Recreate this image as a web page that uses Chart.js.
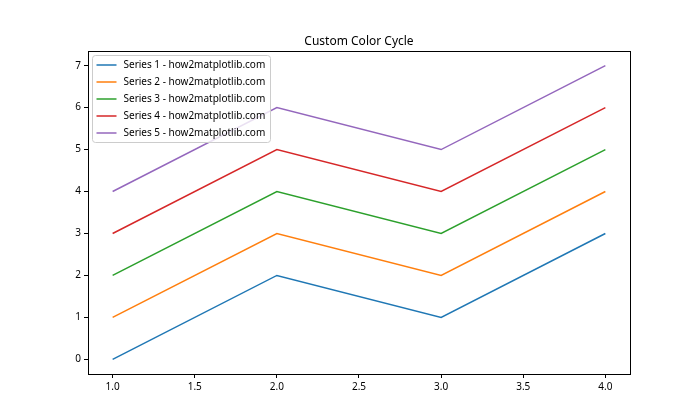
<!DOCTYPE html>
<html>
<head>
<meta charset="utf-8">
<script src="https://cdn.jsdelivr.net/npm/chart.js@4"></script>
<style>
  html, body { margin: 0; padding: 0; background: #fff; }
  #wrap { width: 700px; height: 420px; }
</style>
</head>
<body>
<div id="wrap"><canvas id="chart" width="700" height="420"></canvas></div>
<script>
const xValues = [1, 2, 3, 4];
const series1 = [0, 2, 1, 3];
const series2 = [1, 3, 2, 4];
const series3 = [2, 4, 3, 5];
const series4 = [3, 5, 4, 6];
const series5 = [4, 6, 5, 7];
const seriesLabels = [
  'Series 1 - how2matplotlib.com',
  'Series 2 - how2matplotlib.com',
  'Series 3 - how2matplotlib.com',
  'Series 4 - how2matplotlib.com',
  'Series 5 - how2matplotlib.com'
];
const xTicks = [1.0, 1.5, 2.0, 2.5, 3.0, 3.5, 4.0];
const yTicks = [0, 1, 2, 3, 4, 5, 6, 7];
const colors = ['#1f77b4', '#ff7f0e', '#2ca02c', '#d62728', '#9467bd'];

const FONT = "'Noto Sans', 'DejaVu Sans', sans-serif";

const allSeries = [series1, series2, series3, series4, series5];
const datasets = allSeries.map((s, i) => ({
  label: seriesLabels[i],
  data: s.map((y, j) => ({ x: xValues[j], y: y })),
  borderColor: colors[i],
  backgroundColor: colors[i],
  borderWidth: 1.5,
  pointRadius: 0,
  tension: 0,
  fill: false
}));

// frame, title and legend drawn like matplotlib
const mplDecor = {
  id: 'mplDecor',
  afterDraw(chart) {
    const { ctx, chartArea: a } = chart;
    ctx.save();
    ctx.strokeStyle = '#000';
    ctx.lineWidth = 1;
    ctx.strokeRect(Math.round(a.left) + 0.5, Math.round(a.top) + 0.5,
      Math.round(a.right - a.left), Math.round(a.bottom - a.top));

    ctx.fillStyle = '#000';
    ctx.font = '12px ' + FONT;
    ctx.textAlign = 'center';
    ctx.textBaseline = 'alphabetic';
    ctx.fillText('Custom Color Cycle', (a.left + a.right) / 2, a.top - 6);

    // legend
    ctx.font = '10px ' + FONT;
    let tw = 0;
    chart.data.datasets.forEach(ds => { tw = Math.max(tw, ctx.measureText(ds.label).width); });
    const bx = a.left + 4.5, by = a.top + 4.5, bw = Math.round(31 + tw + 5), bh = 87, r = 3;
    ctx.beginPath();
    ctx.moveTo(bx + r, by);
    ctx.arcTo(bx + bw, by, bx + bw, by + bh, r);
    ctx.arcTo(bx + bw, by + bh, bx, by + bh, r);
    ctx.arcTo(bx, by + bh, bx, by, r);
    ctx.arcTo(bx, by, bx + bw, by, r);
    ctx.closePath();
    ctx.fillStyle = 'rgba(255,255,255,0.8)';
    ctx.fill();
    ctx.strokeStyle = '#cccccc';
    ctx.lineWidth = 1;
    ctx.stroke();

    ctx.textAlign = 'left';
    ctx.textBaseline = 'middle';
    chart.data.datasets.forEach((ds, i) => {
      const y = by + 9.5 + i * 17;
      ctx.strokeStyle = ds.borderColor;
      ctx.lineWidth = 1.5;
      ctx.beginPath();
      ctx.moveTo(bx + 4, y);
      ctx.lineTo(bx + 24, y);
      ctx.stroke();
      ctx.fillStyle = '#000';
      ctx.fillText(ds.label, bx + 31, y);
    });
    ctx.restore();
  }
};

new Chart(document.getElementById('chart'), {
  type: 'line',
  data: { datasets: datasets },
  options: {
    responsive: false,
    animation: false,
    devicePixelRatio: 1,
    layout: { padding: { left: 0, right: 70, top: 51, bottom: 0 } },
    plugins: { legend: { display: false }, title: { display: false }, tooltip: { enabled: false } },
    scales: {
      x: {
        type: 'linear',
        min: 0.85,
        max: 4.15,
        afterBuildTicks: (scale) => { scale.ticks = xTicks.map(v => ({ value: v })); },
        afterFit: (scale) => { scale.height = 46; },
        grid: { drawOnChartArea: false, drawTicks: true, tickLength: 4, color: '#000' },
        border: { display: true, color: '#000' },
        ticks: {
          color: '#000',
          font: { family: FONT, size: 10 },
          padding: 3,
          maxRotation: 0,
          callback: (v) => Number(v).toFixed(1)
        }
      },
      y: {
        type: 'linear',
        min: -0.35,
        max: 7.35,
        afterBuildTicks: (scale) => { scale.ticks = yTicks.map(v => ({ value: v })); },
        afterFit: (scale) => { scale.width = 88; },
        grid: { drawOnChartArea: false, drawTicks: true, tickLength: 4, color: '#000' },
        border: { display: true, color: '#000' },
        ticks: {
          color: '#000',
          font: { family: FONT, size: 10 },
          padding: 3,
          callback: (v) => String(v)
        }
      }
    }
  },
  plugins: [mplDecor]
});
</script>
</body>
</html>
